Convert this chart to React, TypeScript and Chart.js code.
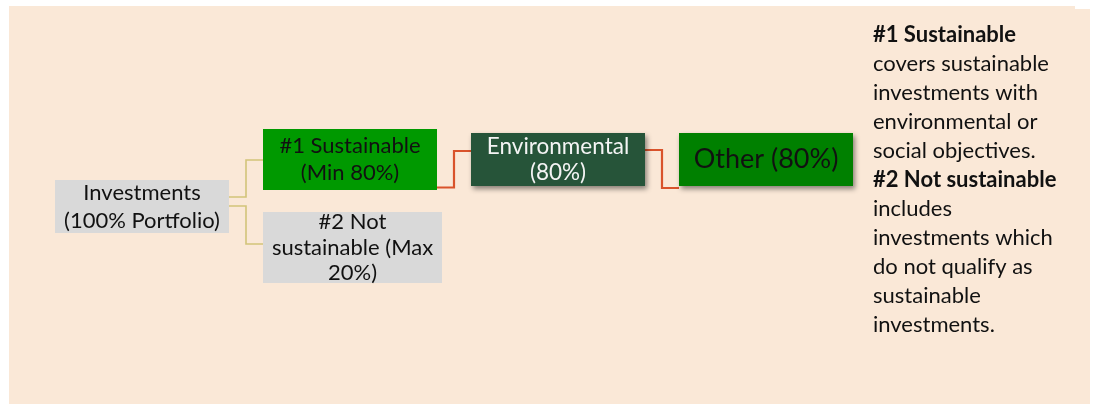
import React, { useEffect, useRef } from "react";
import { Chart, registerables } from "chart.js";

Chart.register(...registerables);

// ---- data ----
const nodeLabels: string[][] = [
  ["Investments", "(100% Portfolio)"],
  ["#1 Sustainable", "(Min 80%)"],
  ["#2 Not", "sustainable (Max", "20%)"],
  ["Environmental", "(80%)"],
  ["Other (80%)"],
];
const nodeShares: number[] = [100, 80, 20, 80, 80];
const linkSources: number[] = [0, 0, 1, 3];
const linkTargets: number[] = [1, 2, 3, 4];
const noteLines: string[] = [
  "#1 Sustainable",
  "covers sustainable",
  "investments with",
  "environmental or",
  "social objectives.",
  "#2 Not sustainable",
  "includes",
  "investments which",
  "do not qualify as",
  "sustainable",
  "investments.",
];
const noteBold: boolean[] = [true, false, false, false, false, true, false, false, false, false, false];

// ---- layout / style (chart units == pixels of the scales) ----
const W = 1096;
const H = 405;
const nodeRects: number[][] = [
  [55, 180, 229, 233],
  [263, 129, 437, 190],
  [263, 212, 442, 283],
  [471, 133, 645, 186],
  [679, 133, 853, 186],
];
const nodeFill = ["#D9D9D9", "#009900", "#D9D9D9", "#265439", "#008000"];
const nodeText = ["#111111", "#111111", "#111111", "#F4F4F4", "#111111"];
const nodeFont = [22, 22, 22, 22.5, 27];
const nodeLH = [28, 27, 25.5, 26, 26];
const nodeShadow = [false, false, false, true, true];
const linkExitY = [197, 206, 187.5, 150];
const linkElbowX = [246, 246, 454, 662];
const linkEnterY = [160, 244, 151, 188];
const linkColor = ["#D2C47A", "#D2C47A", "#D9532B", "#D9532B"];
const linkWidth = [1.6, 1.6, 2.2, 2.2];
const FONT = "Lato, 'Noto Sans', sans-serif";
const PEACH = "#FAE8D7";
const NOTE_SIZE = 22;

export default function App() {
  const ref = useRef<HTMLCanvasElement | null>(null);

  useEffect(() => {
    if (!ref.current) return;

    const datasets = linkSources.map((s, i) => {
      const t = linkTargets[i];
      const x0 = nodeRects[s][2];
      const x1 = nodeRects[t][0];
      return {
        label: `link${i} (${nodeShares[t]}%)`,
        data: [
          { x: x0, y: linkExitY[i] },
          { x: linkElbowX[i], y: linkExitY[i] },
          { x: linkElbowX[i], y: linkEnterY[i] },
          { x: x1, y: linkEnterY[i] },
        ],
        showLine: true,
        borderColor: linkColor[i],
        borderWidth: linkWidth[i],
        pointRadius: 0,
        fill: false,
        tension: 0,
      };
    });

    const panelPlugin = {
      id: "panel",
      beforeDraw(chart: any) {
        const { ctx, scales } = chart;
        const xs = scales.x, ys = scales.y;
        const px = (v: number) => xs.getPixelForValue(v);
        const py = (v: number) => ys.getPixelForValue(v);
        ctx.save();
        ctx.fillStyle = "#FFFFFF";
        ctx.fillRect(0, 0, chart.width, chart.height);
        ctx.fillStyle = PEACH;
        ctx.fillRect(px(9), py(6), px(1075) - px(9), py(404) - py(6));
        ctx.fillRect(px(1075), py(9), px(1090) - px(1075), py(404) - py(9));
        ctx.restore();
      },
    };

    const nodesPlugin = {
      id: "nodes",
      afterDatasetsDraw(chart: any) {
        const { ctx, scales } = chart;
        const xs = scales.x, ys = scales.y;
        const px = (v: number) => xs.getPixelForValue(v);
        const py = (v: number) => ys.getPixelForValue(v);
        ctx.save();
        nodeRects.forEach((r, i) => {
          const x0 = px(r[0]), y0 = py(r[1]), x1 = px(r[2]), y1 = py(r[3]);
          ctx.save();
          if (nodeShadow[i]) {
            ctx.shadowColor = "rgba(0,0,0,0.45)";
            ctx.shadowBlur = 5;
            ctx.shadowOffsetX = 2;
            ctx.shadowOffsetY = 3;
          }
          ctx.fillStyle = nodeFill[i];
          ctx.fillRect(x0, y0, x1 - x0, y1 - y0);
          ctx.restore();
          const lines = nodeLabels[i];
          const cx = (x0 + x1) / 2;
          const cy = (y0 + y1) / 2;
          ctx.fillStyle = nodeText[i];
          ctx.font = `${nodeFont[i]}px ${FONT}`;
          ctx.textAlign = "center";
          ctx.textBaseline = "middle";
          lines.forEach((ln, k) => {
            const y = cy + (k - (lines.length - 1) / 2) * nodeLH[i];
            ctx.fillText(ln, cx, y);
          });
        });
        // notes
        ctx.textAlign = "left";
        ctx.textBaseline = "middle";
        ctx.fillStyle = "#111111";
        noteLines.forEach((ln, k) => {
          ctx.font = `${noteBold[k] ? "bold " : ""}${NOTE_SIZE}px ${FONT}`;
          ctx.fillText(ln, px(873), py(35 + k * 29));
        });
        ctx.restore();
      },
    };

    const chart = new Chart(ref.current, {
      type: "scatter",
      data: { datasets },
      options: {
        animation: false,
        responsive: false,
        maintainAspectRatio: false,
        layout: { padding: 0 },
        plugins: { legend: { display: false }, tooltip: { enabled: false } },
        scales: {
          x: { type: "linear", min: 0, max: W, display: false },
          y: { type: "linear", min: 0, max: H, reverse: true, display: false },
        },
      },
      plugins: [panelPlugin, nodesPlugin],
    } as any);

    return () => chart.destroy();
  }, []);

  return (
    <div style={{ position: "fixed", left: 0, top: 0, width: W, height: H, background: "#fff" }}>
      <canvas ref={ref} width={W} height={H} style={{ display: "block" }} />
    </div>
  );
}
